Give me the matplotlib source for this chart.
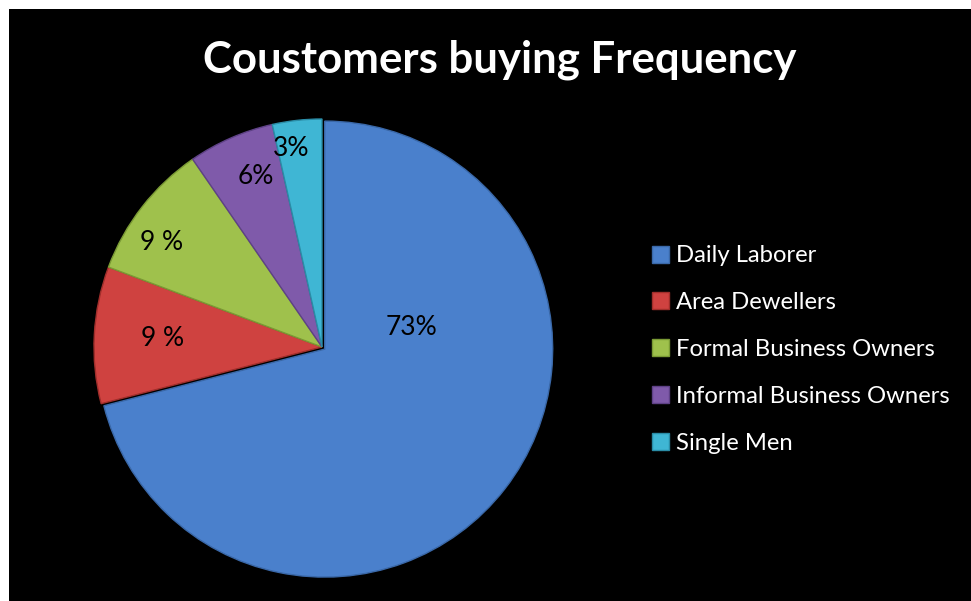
import matplotlib
matplotlib.use("Agg")
import matplotlib.pyplot as plt
from matplotlib.patches import Rectangle
import numpy as np

categories = ["Daily Laborer", "Area Dewellers", "Formal Business Owners",
              "Informal Business Owners", "Single Men"]
values = [71.0, 9.7, 9.7, 6.1, 3.5]
pct_labels = ["73%", "9 %", "9 %", "6%", "3%"]
colors = ["#4a80cc", "#cf4240", "#9fc14c", "#7f5aaa", "#3fb6d4"]
edge_colors = ["#3a68a8", "#a02e2b", "#7a9a34", "#5e4186", "#2a8ca6"]

# label placement: (fraction along wedge angle, fraction of radius)
label_pos = [(0.695, 0.40), (0.5, 0.70), (0.64, 0.84), (0.39, 0.80), (0.7, 0.88)]

W, H = 971, 601
fig = plt.figure(figsize=(W / 100, H / 100), dpi=100, facecolor="white")
fig.patches.append(Rectangle((9 / W, 0), 1 - 9 / W, 1 - 9 / H, transform=fig.transFigure,
                             facecolor="black", edgecolor="none", zorder=-10))

cx, cy, R = 322, H - 347, 228
ax = fig.add_axes([(cx - R) / W, (cy - R) / H, 2 * R / W, 2 * R / H])
ax.set_facecolor("none")
wedges, _ = ax.pie(values, startangle=90, counterclock=False, colors=colors,
                   explode=[0.015, 0, 0, 0, 0],
                   wedgeprops=dict(linewidth=1.0), radius=1.0)
for w, ec in zip(wedges, edge_colors):
    w.set_edgecolor(ec)
ax.set_xlim(-1, 1)
ax.set_ylim(-1, 1)
ax.set_aspect("equal")
ax.axis("off")

for w, lab, (f, rf) in zip(wedges, pct_labels, label_pos):
    ang = np.deg2rad(w.theta1 + f * (w.theta2 - w.theta1))
    ax.text(rf * np.cos(ang), rf * np.sin(ang), lab, ha="center", va="center",
            fontsize=19, color="black", family="Lato")

fig.text(500 / W, 1 - 60 / H, "Coustomers buying Frequency", ha="center", va="center",
         fontsize=31.5, fontweight="bold", color="white", family="Lato")

leg = fig.legend(wedges, categories, loc="upper left",
                 bbox_to_anchor=(630 / W, 1 - 224 / H), frameon=False,
                 handlelength=0.72, handleheight=0.72, handletextpad=0.32,
                 labelspacing=1.08,
                 prop=dict(family="Lato", size=17.2))
for t in leg.get_texts():
    t.set_color("white")

fig.savefig("out.png", dpi=100, facecolor="white")
